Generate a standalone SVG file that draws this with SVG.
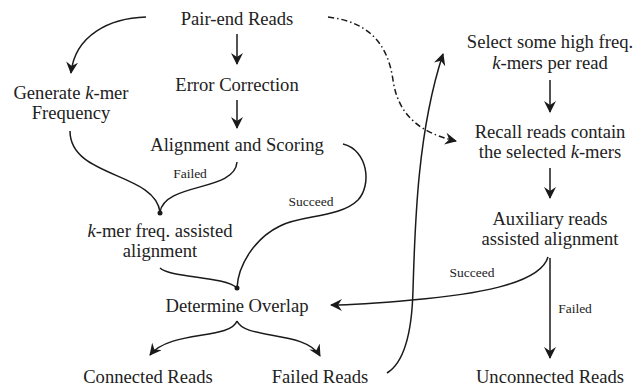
<svg xmlns="http://www.w3.org/2000/svg" width="635" height="386" viewBox="0 0 635 386">
<style>
text{font-family:"Liberation Serif","Times New Roman",serif;fill:#222;text-anchor:middle}
.t{font-size:18.6px}
.s{font-size:13.5px}
.c{fill:none;stroke:#1a1a1a;stroke-width:1.5}
.a{marker-end:url(#ah)}
.d{stroke-dasharray:6 3 1.5 3}
.k{font-style:italic}
</style>
<defs>
<marker id="ah" viewBox="0 0 12 12" refX="11" refY="6" markerWidth="12" markerHeight="12" markerUnits="userSpaceOnUse" orient="auto">
<path d="M0,0 L12,6 L0,12 L4,6 z" fill="#1a1a1a"/>
</marker>
</defs>
<rect width="635" height="386" fill="#fff"/>
<g id="connectors">
<path class="c a" d="M146,17 C110,18 75,35 71,73"/>
<path class="c a" d="M237,34 L237,64"/>
<path class="c a" d="M237,100 L237,128"/>
<path class="c" d="M70,131 C70,178 155,172 160,212"/>
<path class="c" d="M237,162 C235,192 165,182 160,212"/>
<path class="c" d="M160,268 C170,278 225,276 237,288"/>
<path class="c" d="M343,144 C368,150 372,185 358,200 C340,218 300,215 280,226 C255,238 238,265 237,288"/>
<circle cx="160" cy="213" r="2.5" fill="#1a1a1a"/>
<circle cx="237" cy="288" r="2.5" fill="#1a1a1a"/>
<path class="c a" d="M237,321 C230,340 170,330 150,355"/>
<path class="c a" d="M237,321 C245,340 305,330 320,356"/>
<path class="c a" d="M387,373 C405,362 412,330 413,290 C415,220 418,130 443,54"/>
<path class="c a d" d="M328,17 C370,22 388,45 393,80 C398,115 420,133 456,141"/>
<path class="c a" d="M550,80 L550,112"/>
<path class="c a" d="M550,168 L550,198"/>
<path class="c a" d="M550,258 L550,358"/>
<path class="c a" d="M548,257 C540,285 470,295 412,300 C380,303 355,305 331,305"/>
</g>
<g id="lbl-failed1"><text class="s" x="190" y="178">Failed</text></g>
<g id="lbl-succeed1"><text class="s" x="311" y="206">Succeed</text></g>
<g id="lbl-succeed2"><text class="s" x="472" y="277">Succeed</text></g>
<g id="lbl-failed2"><text class="s" x="575" y="313">Failed</text></g>
<g id="n-pair"><text class="t" x="237" y="25">Pair-end Reads</text></g>
<g id="n-error"><text class="t" x="237" y="91">Error Correction</text></g>
<g id="n-align"><text class="t" x="237" y="151">Alignment and Scoring</text></g>
<g id="n-gen"><text class="t" x="71" y="99">Generate <tspan class="k">k</tspan>-mer</text><text class="t" x="71" y="119">Frequency</text></g>
<g id="n-kmer"><text class="t" x="160" y="237"><tspan class="k">k</tspan>-mer freq. assisted</text><text class="t" x="160" y="257">alignment</text></g>
<g id="n-overlap"><text class="t" x="237" y="312">Determine Overlap</text></g>
<g id="n-connected"><text class="t" x="148" y="383">Connected Reads</text></g>
<g id="n-failed"><text class="t" x="320" y="383">Failed Reads</text></g>
<g id="n-select"><text class="t" x="550" y="48">Select some high freq.</text><text class="t" x="550" y="69"><tspan class="k">k</tspan>-mers per read</text></g>
<g id="n-recall"><text class="t" x="550" y="138">Recall reads contain</text><text class="t" x="550" y="158">the selected <tspan class="k">k</tspan>-mers</text></g>
<g id="n-aux"><text class="t" x="550" y="225">Auxiliary reads</text><text class="t" x="550" y="245">assisted alignment</text></g>
<g id="n-unconnected"><text class="t" x="550" y="383">Unconnected Reads</text></g>
</svg>
